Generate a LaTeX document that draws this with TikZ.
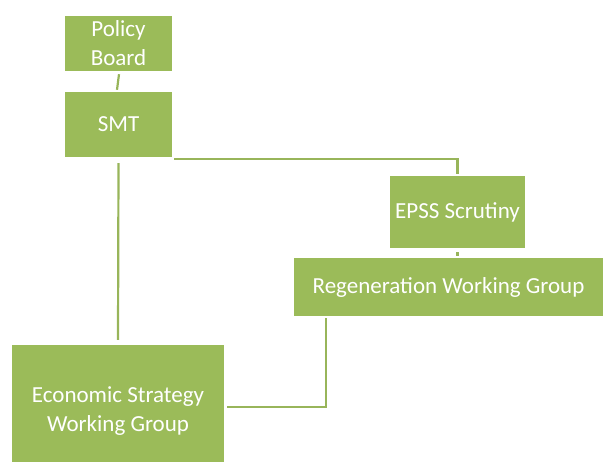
\documentclass[tikz,border=0pt]{standalone}
\usepackage{fontspec}
\setmainfont{Carlito}
\definecolor{olive}{HTML}{9BBB59}
\definecolor{linkgreen}{HTML}{98B55A}
\begin{document}
\begin{tikzpicture}[x=1pt,y=-1pt,
  unit/.style={fill=olive, draw=none, inner sep=0pt, text=white, align=center,
    font=\fontsize{23}{29}\selectfont},
  link/.style={draw=linkgreen, line width=2.2pt}]
\useasboundingbox (0,0) rectangle (604,462);
\clip (0,0) rectangle (604,462);

% organisation units
\node[unit, minimum width=107pt, minimum height=55pt] (pb) at (118.5,43.5) {Policy\\Board};
\node[unit, minimum width=107pt, minimum height=65pt] (smt) at (118.5,124.5) {SMT};
\node[unit, minimum width=135pt, minimum height=72pt] (epss) at (457.5,212) {EPSS Scrutiny};
\node[unit, minimum width=309pt, minimum height=58pt] (rwg) at (448.5,287) {Regeneration Working Group};
\node[unit, minimum width=212pt, minimum height=132pt] (eswg) at (118,411) {Economic Strategy\\Working Group};

% reporting lines
\coordinate (rwgtop) at (epss.south |- rwg.north);
\draw[link] ([shift={(0.5pt,-3pt)}]pb.south) -- ([shift={(-1.5pt,2pt)}]smt.north);
\draw[link] ([shift={(2pt,-1.5pt)}]smt.south east) -| ([yshift=2pt]epss.north);
\draw[link] ([yshift=-6pt]smt.south) -- ([yshift=5pt]eswg.north);
\draw[link] ([yshift=-4pt]epss.south) -- ([yshift=2pt]rwgtop);
\draw[link] ([shift={(32.5pt,-2pt)}]rwg.south west) |- ([shift={(3pt,4pt)}]eswg.east);
\end{tikzpicture}
\end{document}
